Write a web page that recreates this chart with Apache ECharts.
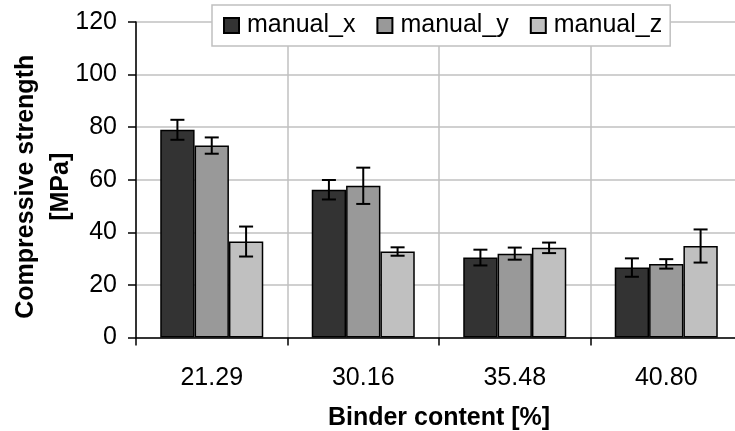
<!DOCTYPE html>
<html>
<head>
<meta charset="utf-8">
<script src="https://cdn.jsdelivr.net/npm/echarts@6/dist/echarts.min.js"></script>
<style>
html,body{margin:0;padding:0;background:#fff;}
#chart{width:735px;height:431px;}
</style>
</head>
<body>
<div id="chart"></div>
<script>
const categories = ['21.29', '30.16', '35.48', '40.80'];
const seriesNames = ['manual_x', 'manual_y', 'manual_z'];
const manualX = [79.0, 56.2, 30.4, 26.6];
const manualY = [73.0, 57.7, 31.9, 28.0];
const manualZ = [36.5, 32.7, 34.1, 34.8];
const errX = [3.8, 3.7, 3.0, 3.5];
const errY = [3.1, 6.9, 2.3, 1.8];
const errZ = [5.7, 1.6, 2.0, 6.3];
const yTicks = [0, 20, 40, 60, 80, 100, 120];

const values = [manualX, manualY, manualZ];
const errors = [errX, errY, errZ];
const colors = ['#333333', '#999999', '#c0c0c0'];
const FONT = '"Liberation Sans", Arial, sans-serif';
const catGap = 0.32;

const chart = echarts.init(document.getElementById('chart'), null, {renderer: 'canvas'});

const barSeries = seriesNames.map((n, i) => ({
  name: n,
  type: 'bar',
  data: values[i],
  barGap: '0%',
  barCategoryGap: (catGap * 100) + '%',
  itemStyle: {color: colors[i], borderColor: '#000', borderWidth: 1.5},
  emphasis: {disabled: true},
  z: 2
}));

const errSeries = seriesNames.map((n, i) => ({
  name: n + '_err',
  type: 'custom',
  data: values[i].map((v, k) => [k, v - errors[i][k], v + errors[i][k]]),
  z: 5,
  silent: true,
  renderItem: function (params, api) {
    const band = api.size([1, 0])[0];
    const barW = band * (1 - catGap) / 3;
    const offset = (i - 1) * barW;
    const lo = api.coord([api.value(0), api.value(1)]);
    const hi = api.coord([api.value(0), api.value(2)]);
    const x = lo[0] + offset;
    const cap = 7;
    const style = {stroke: '#000', lineWidth: 2};
    return {
      type: 'group',
      children: [
        {type: 'line', shape: {x1: x, y1: lo[1], x2: x, y2: hi[1]}, style: style},
        {type: 'line', shape: {x1: x - cap, y1: lo[1], x2: x + cap, y2: lo[1]}, style: style},
        {type: 'line', shape: {x1: x - cap, y1: hi[1], x2: x + cap, y2: hi[1]}, style: style}
      ]
    };
  }
}));

chart.setOption({
  animation: false,
  backgroundColor: '#fff',
  textStyle: {fontFamily: FONT},
  grid: {left: 136, right: -7, top: 22, bottom: 93.5, containLabel: false, outerBoundsMode: 'none'},
  legend: {
    data: seriesNames,
    left: 212,
    top: 5,
    padding: [8, 8, 8, 11],
    itemGap: 21,
    itemWidth: 15,
    itemHeight: 15,
    icon: 'rect',
    backgroundColor: '#fff',
    borderColor: '#c0c0c0',
    borderWidth: 1.5,
    borderRadius: 0,
    selectedMode: false,
    textStyle: {fontFamily: FONT, fontSize: 25, color: '#000', padding: [0, 0, 0, 3]},
    z: 10
  },
  xAxis: {
    type: 'category',
    data: categories,
    boundaryGap: true,
    name: 'Binder content [%]',
    nameLocation: 'middle',
    nameGap: 68,
    nameMoveOverlap: false,
    nameTextStyle: {fontFamily: FONT, fontSize: 25, fontWeight: 'bold', color: '#000'},
    axisLine: {show: true, lineStyle: {color: '#000', width: 1.5}},
    axisTick: {show: true, length: 8, lineStyle: {color: '#000', width: 1.5}},
    axisLabel: {fontFamily: FONT, fontSize: 25, color: '#000', margin: 28},
    splitLine: {show: true, lineStyle: {color: '#c0c0c0', width: 1.5}}
  },
  yAxis: {
    type: 'value',
    min: yTicks[0],
    max: yTicks[yTicks.length - 1],
    interval: yTicks[1] - yTicks[0],
    name: 'Compressive strength\n[MPa]',
    nameLocation: 'middle',
    nameRotate: 90,
    nameGap: 57,
    nameMoveOverlap: false,
    nameTextStyle: {fontFamily: FONT, fontSize: 25, fontWeight: 'bold', color: '#000', lineHeight: 35, align: 'center', padding: [0, 14, 0, 0]},
    axisLine: {show: true, lineStyle: {color: '#000', width: 1.5}},
    axisTick: {show: true, length: 8, lineStyle: {color: '#000', width: 1.5}},
    axisLabel: {fontFamily: FONT, fontSize: 25, color: '#000', margin: 19},
    splitLine: {show: true, lineStyle: {color: '#c0c0c0', width: 1.5}}
  },
  series: barSeries.concat(errSeries)
});
</script>
</body>
</html>
